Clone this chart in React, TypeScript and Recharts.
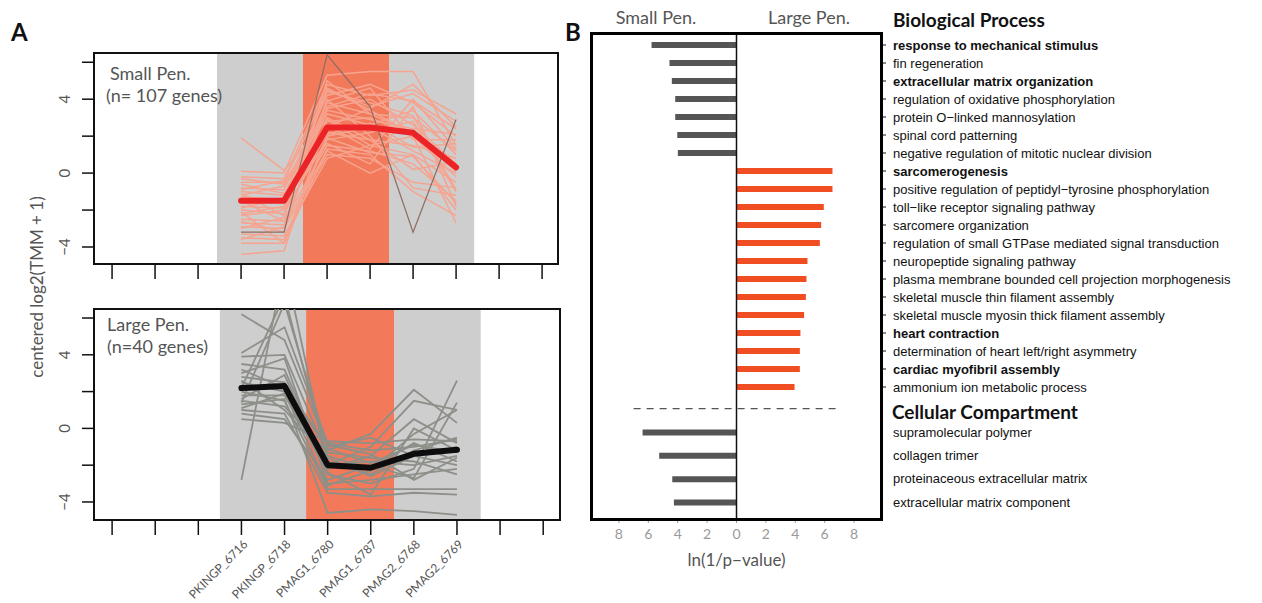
import React from "react";
import {
  LineChart,
  Line,
  XAxis,
  YAxis,
  ReferenceArea,
  ReferenceLine,
  BarChart,
  Bar,
  Cell,
  Label,
} from "recharts";

// ---------- panel A data ----------
const samples = [
  "PKINGP_6716",
  "PKINGP_6718",
  "PMAG1_6780",
  "PMAG1_6787",
  "PMAG2_6768",
  "PMAG2_6769",
];
const firstSlot = 4;
const slotTicks = [1, 2, 3, 4, 5, 6, 7, 8, 9, 10, 11];
const yTicks = [-4, -2, 0, 2, 4, 6];

const smallMean = [-1.5, -1.5, 2.47, 2.47, 2.18, 0.31];
const smallOutlier = [-3.2, -3.2, 6.4, 3.6, -3.2, 2.9];
const smallGenes = [
  [1.9, 0.15, 2.9, 1.5, 1.0, -0.5],
  [0.1, 0.0, 5.3, 5.5, 5.5, 1.5],
  [-0.2, -0.3, 4.8, 4.2, 4.5, 3.2],
  [-0.5, -0.5, 4.5, 3.6, 4.3, 2.8],
  [-0.8, -0.9, 4.2, 4.8, 3.8, 2.0],
  [-1.0, -1.2, 3.8, 3.2, 3.0, 1.2],
  [-1.3, -1.4, 3.5, 4.0, 2.6, 0.5],
  [-1.6, -1.5, 3.2, 2.6, 3.4, 1.0],
  [-1.8, -1.9, 2.8, 3.0, 2.0, -0.2],
  [-2.0, -2.2, 2.2, 1.8, 1.5, 0.8],
  [-2.3, -2.0, 1.8, 2.2, 2.8, -1.0],
  [-2.5, -2.6, 1.5, 1.2, 0.5, -1.5],
  [-2.7, -2.8, 1.2, 0.0, 1.0, -2.0],
  [-2.9, -3.0, 1.0, 0.8, -0.5, -0.8],
  [-3.3, -3.4, 0.8, 1.5, 2.0, -2.7],
  [-3.5, -3.6, 2.0, 2.5, 1.2, 0.0],
  [-3.8, -3.8, 1.3, 1.0, -1.0, -2.3],
  [-4.4, -4.2, 3.0, 1.8, 0.2, 0.6],
  [-1.2, -0.7, 2.5, 3.5, 4.8, 2.5],
  [-2.2, -1.8, 3.9, 4.6, 1.8, 1.8],
  [-0.6, -1.1, 1.6, 0.5, 3.6, -1.8],
  [-3.0, -2.4, 5.0, 3.2, 2.2, 0.3],
  [-1.5, -2.6, 2.6, 1.3, 4.0, 1.3],
  [-2.6, -3.2, 4.0, 2.0, -0.8, -1.2],
  [-0.3, -0.6, 3.4, 2.9, 2.4, 2.1],
  [-1.9, -1.3, 4.4, 3.8, 3.1, -0.9],
  [-0.9, -0.4, 2.1, 2.7, 1.4, 1.6],
  [-3.6, -2.9, 3.6, 4.3, 3.9, 2.4],
  [-2.1, -3.8, 1.9, 1.1, 0.9, -1.6],
  [-1.1, -2.3, 4.6, 3.4, 2.1, 0.1],
];

const largeMean = [2.19, 2.3, -2.0, -2.14, -1.38, -1.16];
const largeGenes = [
  [6.2, 4.8, -1.0, -0.5, -1.5, -1.0],
  [-2.8, 9.0, -2.0, -1.8, -2.0, -1.5],
  [4.1, 5.5, -0.8, -1.2, -1.0, -0.6],
  [3.9, 4.0, -1.5, -2.2, -0.8, -1.8],
  [3.5, 3.2, -2.2, -1.5, 0.5, -0.8],
  [3.0, 3.8, -3.0, -2.8, -2.5, -2.2],
  [2.8, 2.5, -1.2, -0.3, 2.1, 0.3],
  [2.5, 2.0, -2.5, -3.0, -2.2, 2.6],
  [2.2, 7.2, -1.8, -2.5, -1.2, -0.5],
  [2.0, 1.5, -3.3, -3.3, -3.3, -3.3],
  [1.8, 1.8, -2.0, -1.0, 1.5, 1.0],
  [1.5, 1.2, -1.3, -1.6, -1.8, -2.5],
  [1.3, 1.6, -4.6, -4.4, -4.5, -4.7],
  [1.0, 0.8, -3.5, -3.7, -3.5, -3.6],
  [0.8, 0.5, -2.8, -2.0, -2.7, 1.4],
  [0.5, 0.3, -0.7, -0.8, -0.6, -0.7],
  [1.6, 2.9, -2.4, -3.6, 0.0, -1.2],
  [2.6, 1.0, -1.6, -2.6, -1.5, -2.0],
  [3.2, 2.2, -0.9, -1.4, -2.8, -1.6],
  [1.1, 1.9, -3.1, -2.3, -0.3, 1.0],
  [1.4, 6.8, -1.1, -1.9, -0.9, -1.3],
];

// ---------- panel B data ----------
const bpTerms = [
  "response to mechanical stimulus",
  "fin regeneration",
  "extracellular matrix organization",
  "regulation of oxidative phosphorylation",
  "protein O\u2212linked mannosylation",
  "spinal cord patterning",
  "negative regulation of mitotic nuclear division",
  "sarcomerogenesis",
  "positive regulation of peptidyl\u2212tyrosine phosphorylation",
  "toll\u2212like receptor signaling pathway",
  "sarcomere organization",
  "regulation of small GTPase mediated signal transduction",
  "neuropeptide signaling pathway",
  "plasma membrane bounded cell projection morphogenesis",
  "skeletal muscle thin filament assembly",
  "skeletal muscle myosin thick filament assembly",
  "heart contraction",
  "determination of heart left/right asymmetry",
  "cardiac myofibril assembly",
  "ammonium ion metabolic process",
];
const bpSmallPen = [5.78, 4.56, 4.4, 4.17, 4.17, 4.03, 3.99, null, null, null, null, null, null, null, null, null, null, null, null, null];
const bpLargePen = [null, null, null, null, null, null, null, 6.53, 6.53, 5.94, 5.76, 5.67, 4.83, 4.76, 4.72, 4.6, 4.35, 4.31, 4.31, 3.95];
const boldTerms = [
  "response to mechanical stimulus",
  "extracellular matrix organization",
  "sarcomerogenesis",
  "heart contraction",
  "cardiac myofibril assembly",
];
const ccHeading = "Cellular Compartment";
const ccTerms = [
  "supramolecular polymer",
  "collagen trimer",
  "proteinaceous extracellular matrix",
  "extracellular matrix component",
];
const ccSmallPen = [6.39, 5.26, 4.37, 4.26];
const pTicks = [-8, -6, -4, -2, 0, 2, 4, 6, 8];

const FONT = "Lato, 'Open Sans', sans-serif";
const ARIAL = "'Liberation Sans', Arial, sans-serif";
const GRAY_TEXT = "#555";
const BAND_GRAY = "#cecece";
const BAND_ORANGE = "#f27a5b";
const BAR_GRAY = "#555555";
const BAR_ORANGE = "#f14d22";

function buildRows(mean: number[], genes: number[][], outlier?: number[]) {
  return samples.map((name, i) => {
    const row: Record<string, any> = { slot: firstSlot + i, name, mean: mean[i] };
    genes.forEach((g, j) => {
      row["g" + j] = g[i];
    });
    if (outlier) row.outlier = outlier[i];
    return row;
  });
}

const fmtMinus = (v: number) => (v < 0 ? "\u2212" + Math.abs(v) : String(v));

function YTick(props: any) {
  const { x, y, payload } = props;
  if (payload.value % 4 !== 0) return <g />;
  return (
    <text
      transform={`translate(${x - 10},${y}) rotate(-90)`}
      textAnchor="middle"
      fontSize={15}
      fontFamily={FONT}
      fill={GRAY_TEXT}
    >
      {fmtMinus(payload.value)}
    </text>
  );
}

function SampleTick(props: any) {
  const { x, y, payload } = props;
  const name = samples[payload.value - firstSlot];
  if (!name) return <g />;
  return (
    <text
      transform={`translate(${x + 4},${y + 5}) rotate(-45)`}
      textAnchor="end"
      dy="0.35em"
      fontSize={12}
      fontFamily={FONT}
      fill={GRAY_TEXT}
    >
      {name}
    </text>
  );
}

type PanelProps = {
  rows: any[];
  geneCount: number;
  geneColor: string;
  geneWidth: number;
  meanColor: string;
  hasOutlier?: boolean;
  bands: [number, number, number, number];
  xDomain: [number, number];
  yDomain: [number, number];
  width: number;
  height: number;
  margin: { top: number; right: number; bottom: number; left: number };
  xHeight: number;
  labels: boolean;
};

function ExprPanel(p: PanelProps) {
  const [b0, b1, b2, b3] = p.bands;
  return (
    <LineChart width={p.width} height={p.height} data={p.rows} margin={p.margin}>
      <XAxis
        dataKey="slot"
        type="number"
        domain={p.xDomain}
        ticks={slotTicks}
        interval={0}
        allowDataOverflow
        axisLine={false}
        tickSize={15}
        tickLine={{ stroke: "#111", strokeWidth: 1.5 }}
        height={p.xHeight}
        tick={p.labels ? <SampleTick /> : () => <g />}
      />
      <YAxis
        type="number"
        domain={p.yDomain}
        ticks={yTicks}
        allowDataOverflow
        axisLine={false}
        tickSize={12}
        tickLine={{ stroke: "#111", strokeWidth: 1.5 }}
        width={40}
        tick={<YTick />}
      />
      <ReferenceArea x1={b0} x2={b1} y1={p.yDomain[0]} y2={p.yDomain[1]} fill={BAND_GRAY} fillOpacity={1} stroke="none" />
      <ReferenceArea x1={b1} x2={b2} y1={p.yDomain[0]} y2={p.yDomain[1]} fill={BAND_ORANGE} fillOpacity={1} stroke="none" />
      <ReferenceArea x1={b2} x2={b3} y1={p.yDomain[0]} y2={p.yDomain[1]} fill={BAND_GRAY} fillOpacity={1} stroke="none" />
      {Array.from({ length: p.geneCount }, (_, j) => (
        <Line
          key={j}
          dataKey={"g" + j}
          type="linear"
          stroke={p.geneColor}
          strokeWidth={p.geneWidth}
          dot={false}
          isAnimationActive={false}
        />
      ))}
      {p.hasOutlier && (
        <Line dataKey="outlier" type="linear" stroke="#8d6c62" strokeWidth={1.2} dot={false} isAnimationActive={false} />
      )}
      <Line
        dataKey="mean"
        type="linear"
        stroke={p.meanColor}
        strokeWidth={6}
        strokeLinecap="round"
        strokeLinejoin="round"
        dot={false}
        isAnimationActive={false}
      />
      <ReferenceArea
        x1={p.xDomain[0]}
        x2={p.xDomain[1]}
        y1={p.yDomain[0]}
        y2={p.yDomain[1]}
        fill="none"
        stroke="#111"
        strokeWidth={2}
      />
    </LineChart>
  );
}

function BpTick(props: any) {
  const { x, y, payload } = props;
  const bold = boldTerms.includes(payload.value);
  return (
    <text x={x} y={y} dy="0.35em" textAnchor="start" fontSize={13} fontFamily={ARIAL} fontWeight={bold ? 700 : 400} fill="#111">
      {payload.value}
    </text>
  );
}

function CcTick(props: any) {
  const { x, y, payload } = props;
  if (payload.value === ccHeading) {
    return (
      <text x={x - 1} y={y + 4} dy="0.35em" textAnchor="start" fontSize={19} fontFamily={FONT} fontWeight={700} fill="#111">
        {payload.value}
      </text>
    );
  }
  return (
    <text x={x} y={y} dy="0.35em" textAnchor="start" fontSize={13} fontFamily={ARIAL} fill="#111">
      {payload.value}
    </text>
  );
}

const abs = (v: number) => String(Math.abs(v));

export default function App() {
  const smallRows = buildRows(smallMean, smallGenes, smallOutlier);
  const largeRows = buildRows(largeMean, largeGenes);
  const bpRows = bpTerms.map((term, i) => ({
    term,
    value: bpSmallPen[i] != null ? -(bpSmallPen[i] as number) : bpLargePen[i],
  }));
  const ccRows = [{ term: ccHeading, value: null as number | null }].concat(
    ccTerms.map((term, i) => ({ term, value: -ccSmallPen[i] }))
  );
  const pDomain: [number, number] = [-9.9, 9.9];

  const abs_ = (s: React.CSSProperties): React.CSSProperties => ({ position: "absolute", whiteSpace: "nowrap", ...s });

  return (
    <div style={{ position: "absolute", left: 0, top: 0, width: 1262, height: 603, background: "#fff", fontFamily: FONT, overflow: "hidden" }}>
      {/* panel A */}
      <div style={abs_({ left: 0, top: 0 })}>
        <ExprPanel
          rows={smallRows}
          geneCount={smallGenes.length}
          geneColor="#f6a490"
          geneWidth={1.5}
          meanColor="#eb2226"
          hasOutlier
          bands={[3.44, 5.44, 7.44, 9.42]}
          xDomain={[0.58, 11.37]}
          yDomain={[-4.92, 6.5]}
          width={600}
          height={300}
          margin={{ top: 53, right: 42, bottom: 6, left: 54 }}
          xHeight={30}
          labels={false}
        />
      </div>
      <div style={abs_({ left: 0, top: 280 })}>
        <ExprPanel
          rows={largeRows}
          geneCount={largeGenes.length}
          geneColor="#8d9089"
          geneWidth={1.8}
          meanColor="#0d0d0d"
          bands={[3.5, 5.5, 7.55, 9.55]}
          xDomain={[0.58, 11.39]}
          yDomain={[-4.98, 6.49]}
          width={600}
          height={323}
          margin={{ top: 29, right: 40, bottom: 8, left: 54 }}
          xHeight={75}
          labels
        />
      </div>
      <div style={abs_({ left: 11, top: 17, fontSize: 24, fontWeight: 700, color: "#111" })}>A</div>
      <div style={abs_({ left: 110, top: 62, fontSize: 18, lineHeight: "22px", color: GRAY_TEXT })}>
        Small Pen.
        <br />
        <span style={{ marginLeft: -4 }}>(n= 107 genes)</span>
      </div>
      <div style={abs_({ left: 107, top: 313, fontSize: 18, lineHeight: "22px", color: GRAY_TEXT })}>
        Large Pen.
        <br />
        (n=40 genes)
      </div>
      <div
        style={abs_({
          left: 36,
          top: 287,
          fontSize: 17,
          color: GRAY_TEXT,
          transform: "translate(-50%, -50%) rotate(-90deg)",
        })}
      >
        centered log2(TMM + 1)
      </div>

      {/* panel B */}
      <div style={abs_({ left: 560, top: 0 })}>
        <BarChart
          layout="vertical"
          width={702}
          height={397}
          data={bpRows}
          margin={{ top: 33, right: 10, bottom: 0, left: 31 }}
        >
          <XAxis type="number" domain={pDomain} hide allowDataOverflow />
          <YAxis
            type="category"
            dataKey="term"
            orientation="right"
            width={370}
            interval={0}
            padding={{ top: 3, bottom: 1 }}
            axisLine={false}
            tickSize={4}
            tickMargin={7}
            tickLine={{ stroke: "#111" }}
            tick={<BpTick />}
          />
          <Bar dataKey="value" barSize={6} isAnimationActive={false}>
            {bpRows.map((r, i) => (
              <Cell key={i} fill={(r.value as number) < 0 ? BAR_GRAY : BAR_ORANGE} />
            ))}
          </Bar>
          <ReferenceLine x={0} stroke="#111" strokeWidth={1.5} />
        </BarChart>
      </div>
      <div style={abs_({ left: 560, top: 380 })}>
        <BarChart
          layout="vertical"
          width={702}
          height={223}
          data={ccRows}
          margin={{ top: 17, right: 10, bottom: 33, left: 31 }}
        >
          <XAxis
            type="number"
            domain={pDomain}
            ticks={pTicks}
            allowDataOverflow
            axisLine={false}
            tickSize={4}
            tickMargin={6}
            tickLine={{ stroke: "#999" }}
            tick={{ fill: "#999", fontSize: 14, fontFamily: FONT }}
            tickFormatter={abs}
            height={51}
          >
            <Label value={"ln(1/p\u2212value)"} position="insideBottom" offset={4} fill={GRAY_TEXT} fontSize={17} fontFamily={FONT} />
          </XAxis>
          <YAxis
            type="category"
            dataKey="term"
            orientation="right"
            width={370}
            interval={0}
            padding={{ top: 0, bottom: 5 }}
            axisLine={false}
            tickSize={4}
            tickMargin={7}
            tickLine={false}
            tick={<CcTick />}
          />
          <Bar dataKey="value" barSize={6} fill={BAR_GRAY} isAnimationActive={false} />
          <ReferenceLine x={0} stroke="#111" strokeWidth={1.5} />
          <ReferenceLine
            segment={[
              { x: -7, y: ccHeading },
              { x: 7, y: ccHeading },
            ]}
            stroke="#555"
            strokeWidth={1.3}
            strokeDasharray="7 6"
          />
        </BarChart>
      </div>
      <div
        style={abs_({
          left: 590,
          top: 32,
          width: 293,
          height: 489,
          border: "3px solid #000",
          boxSizing: "border-box",
          pointerEvents: "none",
        })}
      />
      <div style={abs_({ left: 565, top: 17, fontSize: 24, fontWeight: 700, color: "#111" })}>B</div>
      <div style={abs_({ left: 556, top: 6, width: 200, textAlign: "center", fontSize: 18, lineHeight: "22px", color: GRAY_TEXT })}>
        Small Pen.
      </div>
      <div style={abs_({ left: 709, top: 6, width: 200, textAlign: "center", fontSize: 18, lineHeight: "22px", color: GRAY_TEXT })}>
        Large Pen.
      </div>
      <div style={abs_({ left: 893, top: 8, fontSize: 19, fontWeight: 700, lineHeight: "24px", color: "#111" })}>
        Biological Process
      </div>
    </div>
  );
}
